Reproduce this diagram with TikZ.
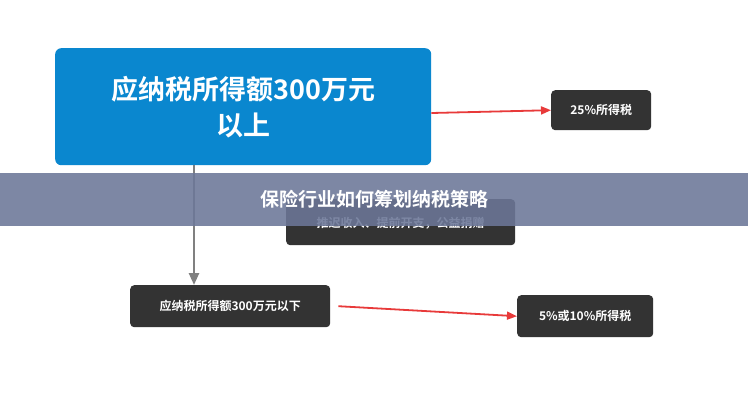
\documentclass[tikz,border=0pt]{standalone}
\usepackage{fontspec}
\setmainfont{Noto Sans CJK SC}[BoldFont={Noto Sans CJK SC Bold}]
\usetikzlibrary{arrows.meta}
\definecolor{boxdark}{HTML}{333333}
\definecolor{boxblue}{HTML}{0A87CF}
\definecolor{banner}{HTML}{6C7798}
\definecolor{arrred}{HTML}{E83A3A}
\begin{document}
\begin{tikzpicture}[x=1pt,y=-1pt,
  dark/.style={fill=boxdark,rounded corners=4pt,text=white,font=\bfseries\fontsize{12}{14}\selectfont,inner sep=0pt,anchor=north west},
  redarr/.style={draw=arrred,line width=1.8pt,-{Triangle[length=10pt,width=8pt]}},
  grayarr/.style={draw=gray,line width=2.5pt,-{Triangle[length=12pt,width=10pt]}}]
\useasboundingbox (0,0) rectangle (748,400);
\fill[white] (0,0) rectangle (748,400);
\node[fill=boxblue,rounded corners=6pt,text=white,font=\bfseries\fontsize{27}{36}\selectfont,align=center,minimum width=376pt,minimum height=117pt,anchor=north west,inner sep=0pt] (top) at (55,48) {应纳税所得额300万元\\以上};
\node[dark,minimum width=100pt,minimum height=40pt] (t25) at (551,90) {25\%所得税};
\node[dark,minimum width=229pt,minimum height=46pt,text depth=-12pt] (mid) at (286,199) {推迟收入、提前开支，公益捐赠};
\node[dark,minimum width=200pt,minimum height=42pt] (low) at (130,285) {应纳税所得额300万元以下};
\node[dark,minimum width=136pt,minimum height=42pt] (t5) at (517,295) {5\%或10\%所得税};
\draw[redarr] (top.east |- 0,113) -- (t25.west);
\draw[grayarr] (194,165) coordinate (g0) -- (low.north -| g0);
\draw[redarr] (low.east) ++(8,0) coordinate (r0) -- (t5.west);
\fill[banner,opacity=0.88] (0,173) rectangle (748,226);
\node[text=white,font=\bfseries\fontsize{19}{22}\selectfont] (title) at (374,199) {保险行业如何筹划纳税策略};
\end{tikzpicture}
\end{document}
